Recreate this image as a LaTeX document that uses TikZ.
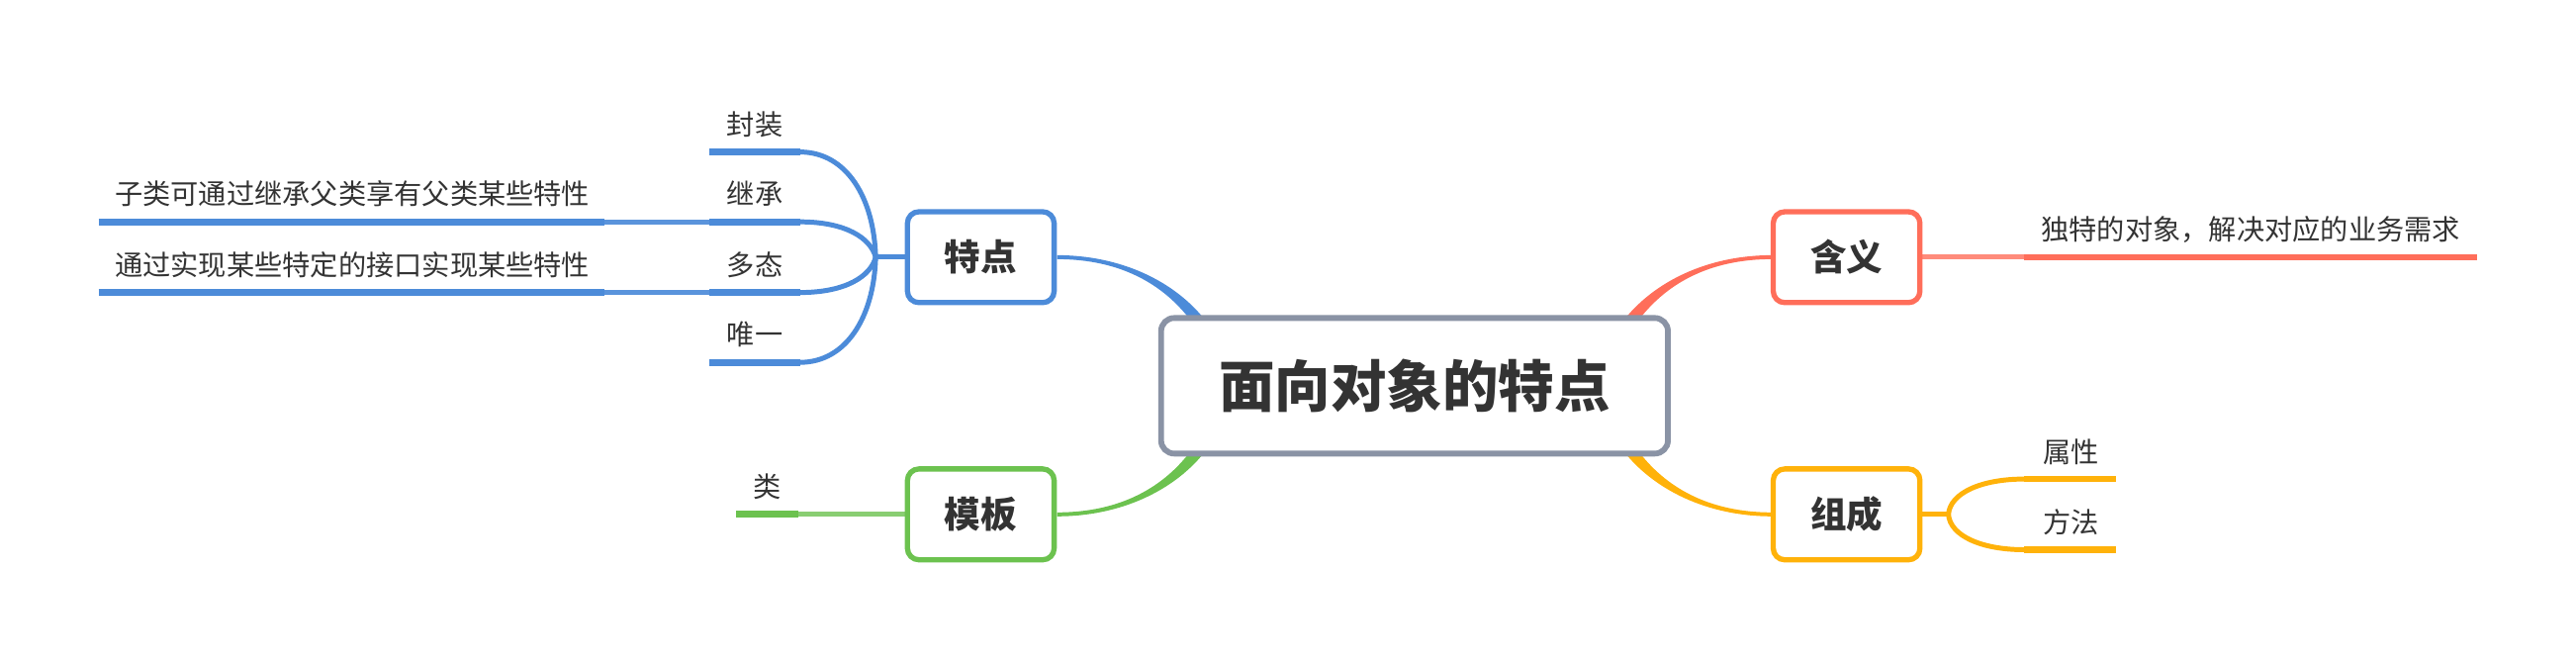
\documentclass[tikz,border=0pt]{standalone}
\usepackage{fontspec}
\setmainfont{Noto Sans CJK SC}
\usetikzlibrary{backgrounds}
\definecolor{cblue}{HTML}{4C8BD9}
\definecolor{cred}{HTML}{FF6E5A}
\definecolor{cyel}{HTML}{FFB20A}
\definecolor{cgreen}{HTML}{6CC24F}
\definecolor{cgray}{HTML}{8A93A5}
\definecolor{ctext}{HTML}{333333}
\begin{document}
\begin{tikzpicture}[x=1pt,y=-1pt,
  topic/.style={draw, line width=3.2pt, rounded corners=7pt, fill=white,
    minimum width=89.3pt, minimum height=55.3pt, inner sep=0pt, text=ctext,
    font=\fontsize{22}{26}\selectfont\bfseries},
  centraltopic/.style={draw=cgray, line width=3.5pt, rounded corners=8pt, fill=white,
    minimum width=308.5pt, minimum height=82.5pt, inner sep=0pt, text=ctext,
    font=\fontsize{34}{40}\selectfont\bfseries},
  lbl/.style={inner sep=0pt, text=ctext, font=\fontsize{17}{20}\selectfont},
  itemline/.style={line width=4pt},
  linkline/.style={line width=3pt},
]
\useasboundingbox (0,0) rectangle (1568,403.4);

% ---- nodes ----
\node[centraltopic] (center) at (861,234.75) {面向对象的特点};
\node[topic, draw=cblue]  (tedian)  at (597,156.5) {特点};
\node[topic, draw=cred]   (hanyi)   at (1124,156.5) {含义};
\node[topic, draw=cyel]   (zucheng) at (1124,313) {组成};
\node[topic, draw=cgreen] (muban)   at (597,313) {模板};

% labels
\node[lbl] (fengzhuang) at (459.5,75.5) {封装};
\node[lbl] (jicheng)    at (459.5,118) {继承};
\node[lbl] (duotai)     at (459.5,161) {多态};
\node[lbl] (weiyi)      at (459.5,203.5) {唯一};
\node[lbl] (jcdesc)     at (214.5,118) {子类可通过继承父类享有父类某些特性};
\node[lbl] (dtdesc)     at (214.5,161) {通过实现某些特定的接口实现某些特性};
\node[lbl] (lei)        at (467,296) {类};
\node[lbl] (hydesc)     at (1370,139.5) {独特的对象，解决对应的业务需求};
\node[lbl] (shuxing)    at (1260.5,275) {属性};
\node[lbl] (fangfa)     at (1260.5,318) {方法};

% ---- coordinates ----
\coordinate (F1) at (533,156.5);
\coordinate (a1) at (487,92.5);  \coordinate (b1) at (432,92.5);
\coordinate (a2) at (487,135);   \coordinate (b2) at (432,135);
\coordinate (a3) at (487,178);   \coordinate (b3) at (432,178);
\coordinate (a4) at (487,220.5); \coordinate (b4) at (432,220.5);
\coordinate (c2) at (368,135);   \coordinate (d2) at (60,135);
\coordinate (c3) at (368,178);   \coordinate (d3) at (60,178);
\coordinate (g1) at (486,313);   \coordinate (g2) at (448,313);
\coordinate (r1) at (1232,156.5); \coordinate (r2) at (1508,156.5);
\coordinate (F2) at (1186,313);
\coordinate (y1) at (1232,291.5); \coordinate (y2) at (1288,291.5);
\coordinate (y3) at (1232,334.5); \coordinate (y4) at (1288,334.5);

\begin{pgfonlayer}{background}
% tapered main branches
\fill[cblue] (643.5,155.3) .. controls (682,155.3) and (715.5,171) .. (734.5,196)
  -- (725.5,196) .. controls (708.5,173) and (682,157.7) .. (643.5,157.7) -- cycle;
\fill[cred] (1078.5,155.3) .. controls (1040,155.3) and (1006.5,171) .. (987.5,196)
  -- (996.5,196) .. controls (1013.5,173) and (1040,157.7) .. (1078.5,157.7) -- cycle;
\fill[cgreen] (643.5,314.2) .. controls (682,314.2) and (715.5,298.5) .. (734.5,273.5)
  -- (725.5,273.5) .. controls (708.5,296.5) and (682,311.8) .. (643.5,311.8) -- cycle;
\fill[cyel] (1078.5,314.2) .. controls (1040,314.2) and (1006.5,298.5) .. (987.5,273.5)
  -- (996.5,273.5) .. controls (1013.5,296.5) and (1040,311.8) .. (1078.5,311.8) -- cycle;

% blue sub-branches
\draw[cblue, linkline] (tedian.west) -- (F1);
\draw[cblue, linkline] (a1) .. controls +(28,0) and +(-1,-36.5) .. (F1);
\draw[cblue, linkline] (a2) .. controls +(28,0) and +(-3,-11.5) .. (F1);
\draw[cblue, linkline] (a3) .. controls +(28,0) and +(-3,11.5) .. (F1);
\draw[cblue, linkline] (a4) .. controls +(28,0) and +(-1,36.5) .. (F1);
\draw[cblue, itemline] (b1) -- (a1);
\draw[cblue, itemline] (b2) -- (a2);
\draw[cblue, itemline] (b3) -- (a3);
\draw[cblue, itemline] (b4) -- (a4);
\draw[cblue!92, linkline] (c2) -- (b2);
\draw[cblue!92, linkline] (c3) -- (b3);
\draw[cblue, itemline] (d2) -- (c2);
\draw[cblue, itemline] (d3) -- (c3);

% green
\draw[cgreen!80, linkline] (muban.west) -- (g1);
\draw[cgreen, itemline] (g1) -- (g2);

% red
\draw[cred!80, linkline] (hanyi.east) -- (r1);
\draw[cred, itemline] (r1) -- (r2);

% yellow
\draw[cyel, linkline] (zucheng.east) -- (F2);
\draw[cyel, linkline] (y1) .. controls +(-26,0) and +(1,-13) .. (F2);
\draw[cyel, linkline] (y3) .. controls +(-26,0) and +(1,13) .. (F2);
\draw[cyel, itemline] (y1) -- (y2);
\draw[cyel, itemline] (y3) -- (y4);
\end{pgfonlayer}
\end{tikzpicture}
\end{document}
